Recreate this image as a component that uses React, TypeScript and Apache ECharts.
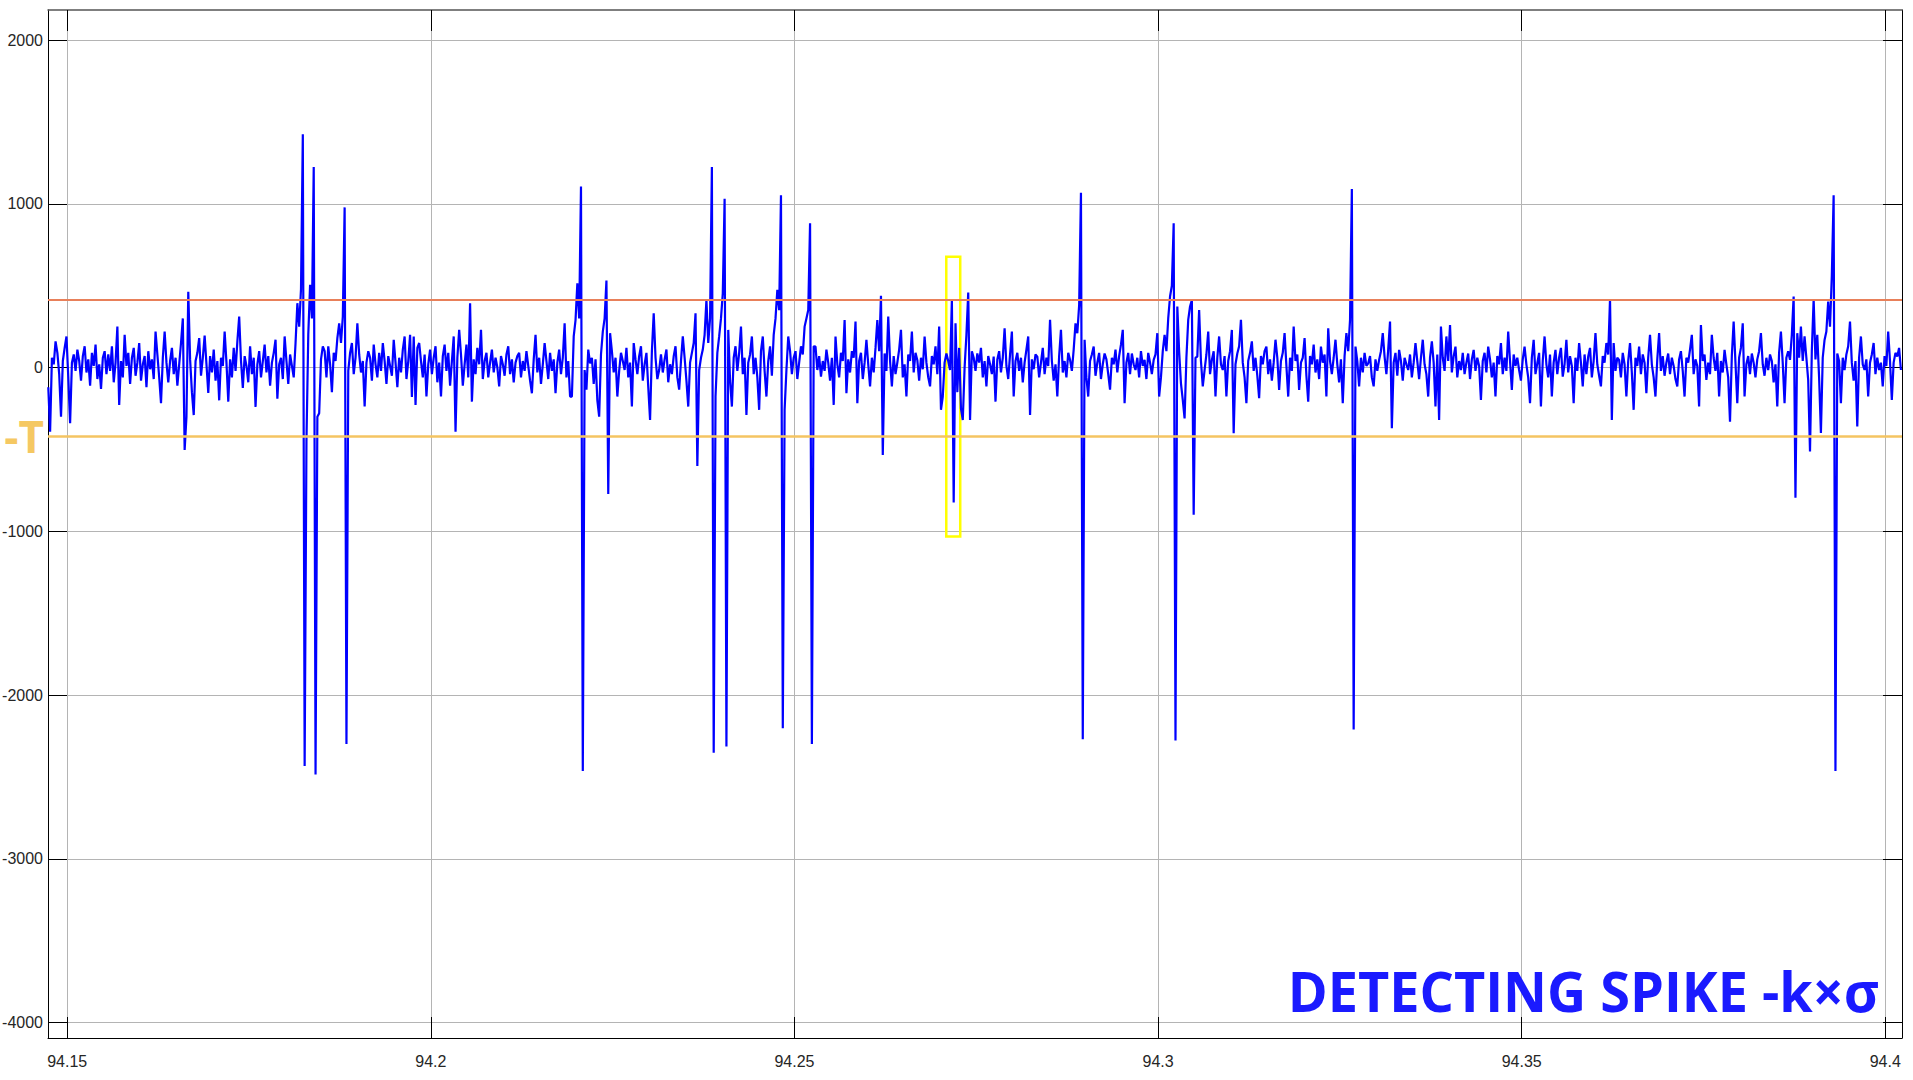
import React, { useEffect, useRef } from "react";
import * as echarts from "echarts";

// ---- axes / ticks ----
const X_MIN = 94.14736;
const X_MAX = 94.4023;
const Y_MIN = -4093.4;
const Y_MAX = 2183.2;
const xTicks = [94.15, 94.2, 94.25, 94.3, 94.35, 94.4];
const yTicks = [-4000, -3000, -2000, -1000, 0, 1000, 2000];

// ---- thresholds / highlighted spike ----
const upperThreshold = 417;
const lowerThreshold = -417;
const lowerLabel = "-T";
const boxTime = [94.27088, 94.2728];
const boxValue = [677, -1032];
const titleText = "DETECTING SPIKE -k×σ";

// ---- signal: samples from T0 every DT seconds ----
const T0 = 94.1474;
const DT = 0.00025;

const segA = [
  -120, -391, 60, 20, 160, 90, -40, -300, 40, 120,
  190, -60, -340, 30, 80, -20, 110, 40, -80, 70,
  130, -30, 50, -110, 90, 10, 140, -70, 20, -130,
  60, 100, -40, 80, -20, 130, -90, 30, 250, -228,
  40, -60, 200, 10, 90, -100, 60, 120, -50, 30,
  150, -80, 20, 70, -120, 100, -10, 50, -70, 220,
  80, -60, -218, 60, 220, 30, -90, 40, 120, -40,
  60, -110, 20, 150, 300, -503, -300, 463, 50, -150,
  -290, 40, 90, 180, -50, 60, 195, 20, -155, 70,
  -30, 110, -80, 40, -200, 60, 10, 220, 30, -208,
  50, -60, 120, -20, 160, 312, 40, -125, 70, 10,
  -90, 130, -40, 60, -240, 20, 100, -60, 40, 140,
  -30, 70, -110, 30, 90, 170, -190, 20, 60, -70,
  190, 40, -100, 80, 10, -60, 150, 393, 250, 480,
  1425, -2433, -450, 200, 505, 300, 1224, -2485, -300, -279,
  50, 130, 100, -60, 130, 20, -150, 90, 40, 180,
  270, 150, 311, 978, -2299, -20, 90, 150, -40, 60,
  270, 80, -30, 40, -238, 30, 100, 60, -80, 140,
  20, -60, 90, -20, 150, 40, -100, 70, 10, -50,
  170, 30, -120, 60, -30, 110, 190, -70, 40, 200,
  -180, 190, -228, 120,
];

const segB = [
  150, 40, -60, 80, -177, 20, 110, -40, 60, 130,
  -90, 30, -177, 70, 140, -20, 90, -110, 40, 190,
  -391, 60, 230, 80, -110, 20, 140, -60, 393, -208,
  50, -40, 120, 20, 230, -70, 40, 90, -60, 30,
  110, -30, 60, 0, -115, 70, 20, -50, 80, 130,
  -40, 50, -90, 30, 70, 90, -60, 40, -20, 100,
  10, -80, -157, 50, 200, -30, 60, -100, 20, 150,
  40, -70, 90, -20, 50, -157, 30, 110, -40, 60,
  270, -60, 40, -177, -177, 190, 290, 515, 300, 1105,
  -2463, -15, -135, 110, 26, 60, -100, 50, -200, -300,
  80, 220, 300, 531, -772, 210, 100, -30, 60, -177,
  -20, 90, 40, -15, 120, -60, 30, -238, 150, 50,
  -40, 70, 130, -80, 20, 90, -120, -320, 100, 332,
  60, -70, -15, 80, -30, 50, 110, -90, 20, -40,
  70, 130, -60, -135, 40, 190, 60, -80, -238, 30,
  90, 150, 332, -601, -15, 60, 110, 200, 413, 150,
  300, 1224, -2351, -177, 90, 190, 300, 454, 1030, -2314,
  230, -80, -238, 60, 130, -20, 90, 250, -40, 60,
  -290, 30, 80, 190, -40, 60, -60, -258, 100, 190,
  -20, -177, 40, 130, -50, 200, 300, 475, 350, 1052,
  -2202, -258, -15, 190,
];

const segC = [
  100, -40, 60, 100, -70, 30, 130, 80, 250, 300,
  352, 881, -2299, 130, 128, -15, 70, -55, 40, -20,
  110, 30, -80, 60, -228, 190, 20, -60, 90, 40,
  290, -157, 50, -30, 100, 60, 281, -218, 40, 90,
  -70, 30, 170, 20, -115, 60, -30, 120, 290, 100,
  438, -534, 86, -20, 311, 40, -115, 70, -40, 30,
  110, 230, -60, 20, -177, 80, 40, 220, -30, 90,
  45, -80, 60, -10, 190, 30, -60, -115, 70, 20,
  130, -40, 250, -258, -177, 30, 86, 40, -15, 414,
  -824, 271, -150, 120, -250, -320, 0, 200, 458, -320,
  100, 60, -20, 86, 30, 120, -60, 40, -115, 70,
  20, -40, 67, -208, 50, 100, -30, 60, 240, 10,
  -70, 80, 220, -177, 40, 90, -20, 60, -90, 30,
  110, 190, -290, 50, -10, 80, 67, -60, 30, 120,
  -40, 60, 10, 291, 40, -80, 20, -177, 70, 230,
  -30, 40, -60, 90, 47, -20, 110, 270, 210, 380,
  1067, -2269, 170, -60, -177, 40, 80, 128, -50, 30,
  90, -70, 20, 86, 50, -40, -135, 60, 20, 110,
  -30, 70, 140, 230, -218, 30, 90, -40, 86, 20,
  -15, 60, -60, 100, 10, 47, -70, 90, 30, -40,
  47, 80, 210, -177,
];

const segD = [
  -60, 100, 200, 100, 300, 434, 500, 881, -2277, 373,
  100, -96, -197, -310, 60, 291, 373, 413, -899, 60,
  67, 352, 40, -115, -15, 80, 220, -40, 47, 100,
  -177, 60, 190, 20, -15, 70, -177, 40, 100, 230,
  -401, 20, 86, 130, 291, 30, -60, -218, 40, 90,
  160, -20, 60, -50, -187, 70, 20, 100, 128, -40,
  50, -80, 30, 170, 60, -136, 40, 90, 210, 10,
  -177, 60, -20, 250, 40, 80, -136, 30, 60, 180,
  -50, -208, 70, 20, 140, -30, 50, -70, 128, 30,
  80, -177, 240, 40, -40, 60, 170, 20, -90, 50,
  -218, 70, 210, 100, 291, 1090, -2210, 128, 40, -115,
  60, -30, 90, 10, 26, 70, -60, -115, 50, -20,
  47, 100, 210, 67, -40, 110, 281, -371, 30, 90,
  -50, 108, 40, -80, 60, 20, -15, 80, -60, 30,
  150, 40, -70, 60, 170, 20, -40, -177, 60, 160,
  30, -238, 80, -320, 250, 60, -20, 190, 40, 260,
  -30, 70, 128, -60, 40, -15, 90, -40, 30, 86,
  -70, 50, 108, -20, 60, 10, -197, 40, 90, -30,
  128, 50, -60, 30, -177, 70, 20, 150, -40, 60,
  -20, 220, 40, -136, 80, 10, 60, -15, -80, 50,
  128, 20, -60, -218,
];

const segE = [
  60, 169, -40, 26, 90, -238, 40, 190, 20, -60,
  80, -177, 30, 108, -40, 60, 120, -55, 20, 169,
  -30, 70, 10, -218, 60, -20, 150, 30, -115, 80,
  -40, 67, 120, -60, 40, 210, 20, -50, -115, 70,
  30, 150, 80, 417, -320, 150, -20, 60, 47, -60,
  90, 20, -177, 40, 150, -30, -258, 60, 10, 128,
  -40, 80, 30, -157, 60, 200, 20, -60, -177, 50,
  210, -20, 70, -50, 30, 86, -40, 60, 10, -70,
  -115, 50, 100, -20, -177, 60, 30, 110, 200, -40,
  50, 10, -238, 260, 40, 80, -75, 30, -40, 200,
  60, -20, 90, -177, 40, -30, 108, 20, -60, -330,
  70, 281, 30, -218, 60, 120, 270, -177, 20, 70,
  -40, 86, 30, -60, 50, 100, 210, 20, -50, 60,
  -15, 80, 40, -90, 20, -238, 90, 220, 30, -218,
  60, 100, 47, 200, 434, -795, 210, 60, 250, 40,
  190, 60, -75, -513, 100, 417, 50, 200, -60, -400,
  60, 169, 220, 403, 250, 560, 1052, -2463, 86, 40,
  -218, 60, -15, 80, 130, 281, 30, -80, 40, -360,
  60, 190, 20, -15, 50, -177, 30, 80, 150, -40,
  60, -15, 30, -115, 70, 10, 220, 40, -197, 30,
  90, 67, 120, -15,
];

const segments = [segA, segB, segC, segD, segE];

const LABEL_FONT = "'Liberation Sans', Arial, sans-serif";

function buildSignal(): [number, number][] {
  const out: [number, number][] = [];
  let n = 0;
  for (const seg of segments) {
    for (const v of seg) {
      out.push([T0 + n * DT, v]);
      n++;
    }
  }
  return out;
}

export default function App() {
  const ref = useRef<HTMLDivElement>(null);

  useEffect(() => {
    if (!ref.current) return;
    const chart = echarts.init(ref.current, null, { renderer: "svg" });
    const signal = buildSignal();

    const tickStyle = { color: "#000", width: 1 };

    const option: any = {
      animation: false,
      backgroundColor: "#ffffff",
      grid: {
        left: 48,
        right: 11,
        top: 10,
        bottom: 42,
        containLabel: false,
        outerBoundsMode: "none",
      },
      xAxis: [
        {
          type: "value",
          position: "bottom",
          min: X_MIN,
          max: X_MAX,
          axisLine: { show: true, onZero: false, lineStyle: { color: "#000", width: 1 } },
          axisTick: { show: true, inside: true, length: 21, customValues: xTicks, lineStyle: tickStyle },
          axisLabel: {
            show: true,
            customValues: xTicks,
            formatter: (v: number) => String(Number(v.toFixed(2))),
            margin: 15,
            color: "#262626",
            fontSize: 16,
            fontFamily: LABEL_FONT,
          },
          splitLine: { show: true, lineStyle: { color: "#b4b4b4", width: 1 } },
        },
        {
          type: "value",
          position: "top",
          min: X_MIN,
          max: X_MAX,
          axisLine: { show: true, onZero: false, lineStyle: { color: "#555", width: 1.5 } },
          axisTick: { show: true, inside: true, length: 21, customValues: xTicks, lineStyle: tickStyle },
          axisLabel: { show: false },
          splitLine: { show: false },
        },
      ],
      yAxis: [
        {
          type: "value",
          position: "left",
          min: Y_MIN,
          max: Y_MAX,
          axisLine: { show: true, onZero: false, lineStyle: { color: "#000", width: 1 } },
          axisTick: { show: true, inside: true, length: 19, customValues: yTicks, lineStyle: tickStyle },
          axisLabel: {
            show: true,
            customValues: yTicks,
            formatter: (v: number) => String(v),
            margin: 5,
            color: "#262626",
            fontSize: 16,
            fontFamily: LABEL_FONT,
          },
          splitLine: { show: true, lineStyle: { color: "#b4b4b4", width: 1 } },
        },
        {
          type: "value",
          position: "right",
          min: Y_MIN,
          max: Y_MAX,
          axisLine: { show: true, onZero: false, lineStyle: { color: "#000", width: 1 } },
          axisTick: { show: true, inside: true, length: 19, customValues: yTicks, lineStyle: tickStyle },
          axisLabel: { show: false },
          splitLine: { show: false },
        },
      ],
      series: [
        {
          type: "line",
          name: "thresholds",
          data: [],
          z: 1,
          silent: true,
          markLine: {
            silent: true,
            symbol: ["none", "none"],
            animation: false,
            data: [
              {
                yAxis: upperThreshold,
                lineStyle: { color: "#e8805a", width: 2, type: "solid" },
                label: { show: false },
              },
              {
                yAxis: lowerThreshold,
                lineStyle: { color: "#f4c462", width: 2.5, type: "solid" },
                label: {
                  show: true,
                  position: "start",
                  formatter: lowerLabel,
                  color: "#f5c862",
                  fontSize: 44,
                  fontWeight: "bold",
                  fontFamily: "'Open Sans', 'Noto Sans', sans-serif",
                  distance: 4,
                },
              },
            ],
          },
        },
        {
          type: "line",
          name: "signal",
          data: signal,
          z: 2,
          showSymbol: false,
          symbol: "none",
          clip: true,
          lineStyle: { color: "#0000ff", width: 2.2 },
        },
        {
          type: "line",
          name: "box",
          data: [],
          z: 3,
          silent: true,
          markArea: {
            silent: true,
            label: { show: false },
            itemStyle: { color: "rgba(0,0,0,0)", borderColor: "#ffff00", borderWidth: 2.5 },
            data: [
              [
                { xAxis: boxTime[0], yAxis: boxValue[0] },
                { xAxis: boxTime[1], yAxis: boxValue[1] },
              ],
            ],
          },
        },
      ],
      graphic: [
        {
          type: "text",
          x: 1879,
          y: 990,
          scaleX: 0.965,
          z: 100,
          silent: true,
          style: {
            text: titleText,
            fill: "#1a1aff",
            fontSize: 56,
            fontWeight: "bold",
            fontFamily: "'Open Sans', 'Noto Sans', sans-serif",
            align: "right",
            verticalAlign: "middle",
          },
        },
      ],
    };

    chart.setOption(option);
    return () => chart.dispose();
  }, []);

  return (
    <div
      ref={ref}
      style={{ position: "fixed", left: 0, top: 0, width: 1913, height: 1080, background: "#fff" }}
    />
  );
}
